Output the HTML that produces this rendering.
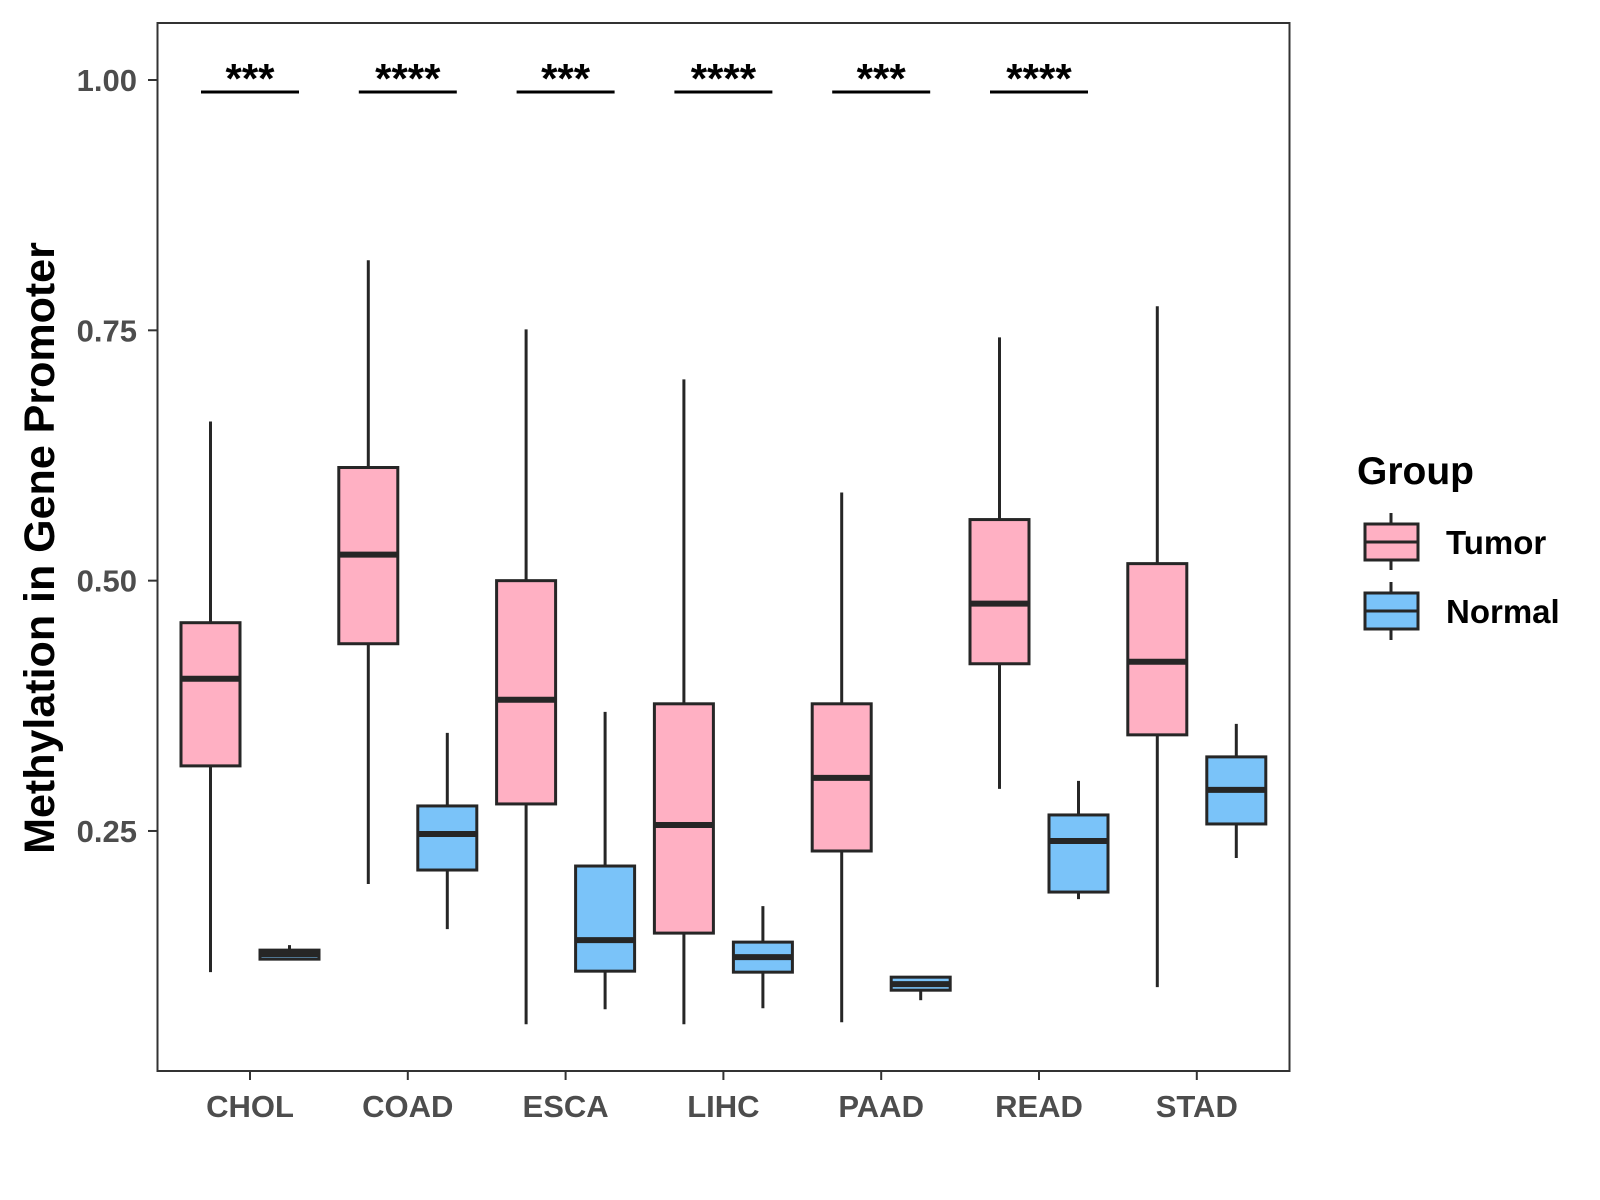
<!DOCTYPE html>
<html><head><meta charset="utf-8"><style>
body{margin:0;background:#fff}
svg{display:block;font-family:"Liberation Sans",Arial,sans-serif}
</style></head><body>
<svg id="chart" width="1600" height="1200" viewBox="0 0 1600 1200">
<rect x="0" y="0" width="1600" height="1200" fill="#fff"/>
<g id="marks"></g>
<rect x="157.5" y="23" width="1132" height="1048" fill="none" stroke="#333" stroke-width="2"/>
<g id="axes"></g>
<text x="0" y="0" transform="translate(54,548) rotate(-90)" text-anchor="middle" font-size="43" font-weight="bold" fill="#000">Methylation in Gene Promoter</text>
<g>
<text x="1357" y="484" font-size="39" font-weight="bold" fill="#000">Group</text>
<g>
<line x1="1391" y1="513" x2="1391" y2="570" stroke="#262626" stroke-width="3"/>
<rect x="1365" y="524" width="53" height="36" fill="#FFB0C3" stroke="#262626" stroke-width="3"/>
<line x1="1365" y1="542" x2="1418" y2="542" stroke="#262626" stroke-width="3"/>
<text x="1446" y="554" font-size="33" font-weight="bold" fill="#000">Tumor</text>
</g>
<g>
<line x1="1391" y1="582" x2="1391" y2="640" stroke="#262626" stroke-width="3"/>
<rect x="1365" y="593" width="53" height="36" fill="#7AC3F9" stroke="#262626" stroke-width="3"/>
<line x1="1365" y1="611" x2="1418" y2="611" stroke="#262626" stroke-width="3"/>
<text x="1446" y="623" font-size="33" font-weight="bold" fill="#000">Normal</text>
</g>
</g>
</svg>
<script>
const categories = ["CHOL","COAD","ESCA","LIHC","PAAD","READ","STAD"];
// [lowerWhisker, q1, median, q3, upperWhisker]
const tumorStats = [
 [0.109,0.315,0.402,0.458,0.659],
 [0.197,0.437,0.526,0.613,0.820],
 [0.057,0.277,0.381,0.500,0.751],
 [0.057,0.148,0.256,0.377,0.701],
 [0.059,0.230,0.303,0.377,0.588],
 [0.292,0.417,0.477,0.561,0.743],
 [0.094,0.346,0.419,0.517,0.774]
];
const normalStats = [
 [0.122,0.122,0.127,0.131,0.136],
 [0.152,0.211,0.247,0.275,0.348],
 [0.072,0.110,0.141,0.215,0.369],
 [0.073,0.109,0.124,0.139,0.175],
 [0.081,0.091,0.097,0.104,0.104],
 [0.182,0.189,0.240,0.266,0.300],
 [0.223,0.257,0.291,0.324,0.357]
];
const sigLabels = ["***","****","***","****","***","****",""];
const yTicks = [0.25,0.50,0.75,1.00];
const yTickLabels = ["0.25","0.50","0.75","1.00"];

const NS="http://www.w3.org/2000/svg";
function y(v){return 80+(1-v)*1001.3;}
function x(i){return 250+i*157.8;}
function mk(tag,attrs,parent){const e=document.createElementNS(NS,tag);for(const k in attrs)e.setAttribute(k,attrs[k]);parent.appendChild(e);return e;}
const marks=document.getElementById('marks');
const axes=document.getElementById('axes');
const bw=59, off=39.5, col="#262626";
function drawBox(s,cx,fill,name){
  const g=mk('g',{},marks);
  
  
  mk('line',{x1:cx,x2:cx,y1:y(s[4]),y2:y(s[0]),stroke:col,'stroke-width':3},g);
  mk('rect',{x:cx-bw/2,y:y(s[3]),width:bw,height:Math.max(y(s[1])-y(s[3]),1),fill:fill,stroke:col,'stroke-width':3},g);
  mk('line',{x1:cx-bw/2,x2:cx+bw/2,y1:y(s[2]),y2:y(s[2]),stroke:col,'stroke-width':6},g);
}
categories.forEach((c,i)=>{
  drawBox(tumorStats[i],x(i)-off,"#FFB0C3","box-tumor-"+c.toLowerCase());
  drawBox(normalStats[i],x(i)+off,"#7AC3F9","box-normal-"+c.toLowerCase());
  if(sigLabels[i]){
    const l=mk('line',{x1:x(i)-49,x2:x(i)+49,y1:92,y2:92,stroke:"#000",'stroke-width':3},marks);
    
    
    const t=mk('text',{x:x(i),y:93,'text-anchor':'middle','font-size':42,'font-weight':'bold',fill:'#000'},marks);
    t.textContent=sigLabels[i];
    
    
  }
  mk('line',{x1:x(i),x2:x(i),y1:1071,y2:1080,stroke:"#333",'stroke-width':2},axes);
  const t=mk('text',{x:x(i),y:1117,'text-anchor':'middle','font-size':31,'font-weight':'bold',fill:'#4d4d4d'},axes);
  t.textContent=c;
  
  
});
yTicks.forEach((v,i)=>{
  mk('line',{x1:148,x2:157,y1:y(v),y2:y(v),stroke:"#333",'stroke-width':2},axes);
  const t=mk('text',{x:137,y:y(v)+11,'text-anchor':'end','font-size':31,'font-weight':'bold',fill:'#4d4d4d'},axes);
  t.textContent=yTickLabels[i];
  
  
});
</script>
</body></html>
